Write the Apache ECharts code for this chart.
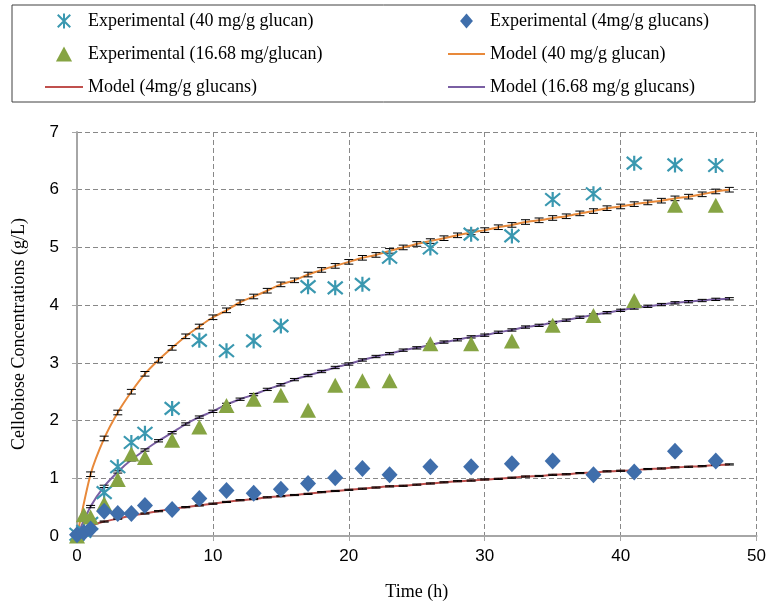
<!DOCTYPE html>
<html>
<head>
<meta charset="utf-8">
<script src="https://cdn.jsdelivr.net/npm/echarts@6/dist/echarts.min.js"></script>
<style>
html, body { margin: 0; padding: 0; background: #fff; }
#main { width: 769px; height: 606px; }
</style>
</head>
<body>
<div id="main"></div>
<script>
// experimental sampling times (h) and measured cellobiose (g/L)
const expTime = [0, 0.5, 1, 2, 3, 4, 5, 7, 9, 11, 13, 15, 17, 19, 21, 23, 26, 29, 32, 35, 38, 41, 44, 47];
const exp40 = [0.03, 0.08, 0.22, 0.75, 1.2, 1.62, 1.78, 2.21, 3.39, 3.21, 3.38, 3.64, 4.32, 4.30, 4.36, 4.83, 4.99, 5.23, 5.20, 5.83, 5.93, 6.46, 6.43, 6.42];
const exp16 = [0, 0.37, 0.33, 0.56, 0.98, 1.42, 1.36, 1.66, 1.89, 2.26, 2.37, 2.44, 2.18, 2.61, 2.69, 2.69, 3.33, 3.33, 3.38, 3.65, 3.82, 4.08, 5.73, 5.73];
const exp4 = [0.02, 0.06, 0.12, 0.43, 0.39, 0.39, 0.53, 0.46, 0.65, 0.79, 0.74, 0.81, 0.91, 1.01, 1.17, 1.06, 1.20, 1.20, 1.25, 1.30, 1.06, 1.11, 1.47, 1.30];

// model curves, hourly
const modelTime = [0, 1, 2, 3, 4, 5, 6, 7, 8, 9, 10, 11, 12, 13, 14, 15, 16, 17, 18, 19, 20, 21, 22, 23, 24,
  25, 26, 27, 28, 29, 30, 31, 32, 33, 34, 35, 36, 37, 38, 39, 40, 41, 42, 43, 44, 45, 46, 47, 48];
const model40 = [0, 1.07, 1.69, 2.14, 2.50, 2.81, 3.05, 3.26, 3.46, 3.63, 3.79, 3.91, 4.05, 4.15, 4.25, 4.36, 4.43, 4.53, 4.61, 4.68, 4.75, 4.82, 4.87, 4.94, 5.00,
  5.06, 5.11, 5.16, 5.21, 5.26, 5.30, 5.35, 5.39, 5.44, 5.47, 5.51, 5.54, 5.59, 5.63, 5.68, 5.71, 5.75, 5.78, 5.81, 5.85, 5.88, 5.92, 5.97, 6.00];
const model16 = [0, 0.51, 0.86, 1.11, 1.32, 1.49, 1.65, 1.79, 1.94, 2.06, 2.16, 2.28, 2.37, 2.45, 2.54, 2.62, 2.71, 2.78, 2.85, 2.92, 2.98, 3.05, 3.11, 3.16, 3.22,
  3.26, 3.31, 3.36, 3.40, 3.45, 3.48, 3.53, 3.57, 3.62, 3.65, 3.70, 3.74, 3.79, 3.83, 3.87, 3.91, 3.95, 3.98, 4.01, 4.04, 4.06, 4.08, 4.10, 4.11];
const model4 = [0, 0.17, 0.25, 0.30, 0.35, 0.39, 0.43, 0.47, 0.50, 0.53, 0.56, 0.59, 0.62, 0.64, 0.67, 0.69, 0.71, 0.73, 0.76, 0.78, 0.80, 0.82, 0.84, 0.86, 0.87,
  0.89, 0.91, 0.93, 0.95, 0.96, 0.98, 0.99, 1.01, 1.03, 1.04, 1.06, 1.07, 1.09, 1.10, 1.12, 1.13, 1.14, 1.16, 1.17, 1.19, 1.20, 1.21, 1.23, 1.24];
// error bar half-widths (g/L)
const err40 = 0.04;
const err16 = 0.02;
const err4 = 0.01;

const names = [
  'Experimental (40 mg/g glucan)',
  'Experimental (4mg/g glucans)',
  'Experimental (16.68 mg/glucan)',
  'Model (40 mg/g glucan)',
  'Model (4mg/g glucans)',
  'Model (16.68 mg/g glucans)'
];

const serif = '"Liberation Serif", "Times New Roman", serif';
const sans = '"Liberation Sans", Arial, sans-serif';

const pairs = (xs, ys) => xs.map((x, i) => [x, ys[i]]);
const errData = (ys, e) => modelTime.map((t, i) => [t, ys[i], e]);

function errBar(params, api) {
  const x = api.value(0), v = api.value(1), e = api.value(2);
  const hi = api.coord([x, v + e]);
  const lo = api.coord([x, v - e]);
  const hw = 4.5;
  const st = { stroke: '#000', lineWidth: 1 };
  return {
    type: 'group',
    children: [
      { type: 'line', shape: { x1: hi[0], y1: hi[1], x2: lo[0], y2: lo[1] }, style: st },
      { type: 'line', shape: { x1: hi[0] - hw, y1: hi[1], x2: hi[0] + hw, y2: hi[1] }, style: st },
      { type: 'line', shape: { x1: lo[0] - hw, y1: lo[1], x2: lo[0] + hw, y2: lo[1] }, style: st }
    ]
  };
}

const asterisk = 'path://M0,0L10,10M10,0L0,10M5,-1L5,11';
const diamond = 'path://M6,0L12,7L6,14L0,7Z';
const triangle = 'path://M7,0L14,13L0,13Z';
const lineIcon = 'path://M0,0L40,0L40,2L0,2Z';

const legendText = { fontFamily: serif, fontSize: 18, color: '#000' };

const option = {
  animation: false,
  graphic: [{
    type: 'rect',
    shape: { x: 12, y: 5, width: 743, height: 97 },
    style: { fill: 'none', stroke: '#404040', lineWidth: 1 }
  }],
  legend: [
    {
      orient: 'vertical', left: 40, top: 7,
      itemWidth: 38, itemHeight: 15, itemGap: 15,
      symbolKeepAspect: true,
      textStyle: legendText,
      data: [
        { name: names[0], icon: asterisk },
        { name: names[2], icon: triangle },
        { name: names[4], icon: lineIcon }
      ]
    },
    {
      orient: 'vertical', left: 443, top: 7,
      itemWidth: 37, itemHeight: 15, itemGap: 15,
      symbolKeepAspect: true,
      textStyle: legendText,
      data: [
        { name: names[1], icon: diamond },
        { name: names[3], icon: lineIcon },
        { name: names[5], icon: lineIcon }
      ]
    }
  ],
  grid: { left: 77, right: 11, top: 132, bottom: 66 },
  xAxis: {
    type: 'value', min: 0, max: 50, interval: 10,
    name: 'Time (h)', nameLocation: 'middle', nameGap: 47,
    nameTextStyle: { fontFamily: serif, fontSize: 18, color: '#000' },
    axisLine: { onZero: false, lineStyle: { color: '#a6a6a6', width: 2 } },
    axisTick: { show: true, length: 5, lineStyle: { color: '#a6a6a6' } },
    axisLabel: { fontFamily: sans, fontSize: 17, color: '#000', margin: 12 },
    splitLine: { show: true, lineStyle: { color: '#888', type: [5, 3], width: 1 } }
  },
  yAxis: {
    type: 'value', min: 0, max: 7, interval: 1,
    name: 'Cellobiose Concentrations (g/L)', nameLocation: 'middle', nameGap: 49,
    nameTextStyle: { fontFamily: serif, fontSize: 18, color: '#000' },
    axisLine: { show: true, lineStyle: { color: '#a6a6a6', width: 2 } },
    axisTick: { show: true, length: 5, lineStyle: { color: '#a6a6a6' } },
    axisLabel: { fontFamily: sans, fontSize: 17, color: '#000', margin: 18 },
    splitLine: { show: true, lineStyle: { color: '#888', type: [5, 3], width: 1 } }
  },
  series: [
    {
      name: names[3], type: 'line', data: pairs(modelTime, model40),
      symbol: 'none', smooth: 0.2, z: 2,
      lineStyle: { color: '#e8893a', width: 2 }, itemStyle: { color: '#e8893a' }
    },
    {
      name: names[5], type: 'line', data: pairs(modelTime, model16),
      symbol: 'none', smooth: 0.2, z: 2,
      lineStyle: { color: '#7a5fa3', width: 2 }, itemStyle: { color: '#7a5fa3' }
    },
    {
      name: names[4], type: 'line', data: pairs(modelTime, model4),
      symbol: 'none', smooth: 0.2, z: 2,
      lineStyle: { color: '#c0504d', width: 2 }, itemStyle: { color: '#c0504d' }
    },
    { name: 'err40', type: 'custom', renderItem: errBar, data: errData(model40, err40), z: 3 },
    { name: 'err16', type: 'custom', renderItem: errBar, data: errData(model16, err16), z: 3 },
    { name: 'err4', type: 'custom', renderItem: errBar, data: errData(model4, err4), z: 3 },
    {
      name: names[0], type: 'scatter', data: pairs(expTime, exp40),
      symbol: asterisk, symbolSize: 15, z: 4,
      itemStyle: { color: 'rgba(0,0,0,0)', borderColor: '#3a98b0', borderWidth: 2.2, opacity: 1 }
    },
    {
      name: names[2], type: 'scatter', data: pairs(expTime, exp16),
      symbol: triangle, symbolSize: [16, 15], z: 4,
      itemStyle: { color: '#86a443', opacity: 1 }
    },
    {
      name: names[1], type: 'scatter', data: pairs(expTime, exp4),
      symbol: diamond, symbolSize: [16, 17], z: 4,
      itemStyle: { color: '#3f6eab', opacity: 1 }
    }
  ]
};

const chart = echarts.init(document.getElementById('main'));
chart.setOption(option);
window.addEventListener('resize', () => chart.resize());
</script>
</body>
</html>
